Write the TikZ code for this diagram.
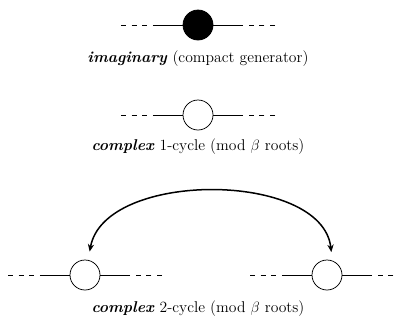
\documentclass[tikz,border=0pt]{standalone}
\usepackage{amsmath}
\usepackage{tikz}
\usetikzlibrary{arrows.meta}

\begin{document}
\begin{tikzpicture}[x=0.8pt,y=-0.8pt,
  root/.style={circle,draw,semithick,minimum size=24pt,inner sep=0pt},
  armline/.style={semithick,dash pattern=on 4pt off 4.5pt},
  swap/.style={line width=1.2pt,{Stealth[length=6pt,width=5pt]}-{Stealth[length=6pt,width=5pt]},shorten <=6.8pt,shorten >=6.8pt},
  caption/.style={anchor=base,font=\fontsize{12.5pt}{15pt}\selectfont}]
 \useasboundingbox (0,0) rectangle (398,323);
 \node[root,fill=black] (imag) at (198,25) {};
 \node[root] (cplx) at (198,115) {};
 \node[root] (cyca) at (85,275) {};
 \node[root] (cycb) at (327,275) {};
 \foreach \r in {imag,cplx,cyca,cycb}{
   \path (\r) ++(-77,0) coordinate (\r-wo) ++(33,0) coordinate (\r-wi)
         (\r) ++(77,0) coordinate (\r-eo) ++(-33,0) coordinate (\r-ei);
   \draw[armline] (\r-wo) -- (\r-wi);
   \draw[armline] (\r-eo) -- (\r-ei);
   \draw[semithick] (\r-wi) -- (\r);
   \draw[semithick] (\r-ei) -- (\r);
 }
 \draw[swap] (cyca.78) .. controls +(16,-90) and +(-10,-90) .. (cycb.70);
 \node[caption] (imaglab) at (198,62)
   {\textbf{\textit{imaginary}} (compact generator)};
 \node[caption] (cplxlab) at (198,150)
   {\textbf{\textit{complex}} 1-cycle (mod $\beta$ roots)};
 \node[caption] (cyclab) at (198,312)
   {\textbf{\textit{complex}} 2-cycle (mod $\beta$ roots)};
\end{tikzpicture}
\end{document}
